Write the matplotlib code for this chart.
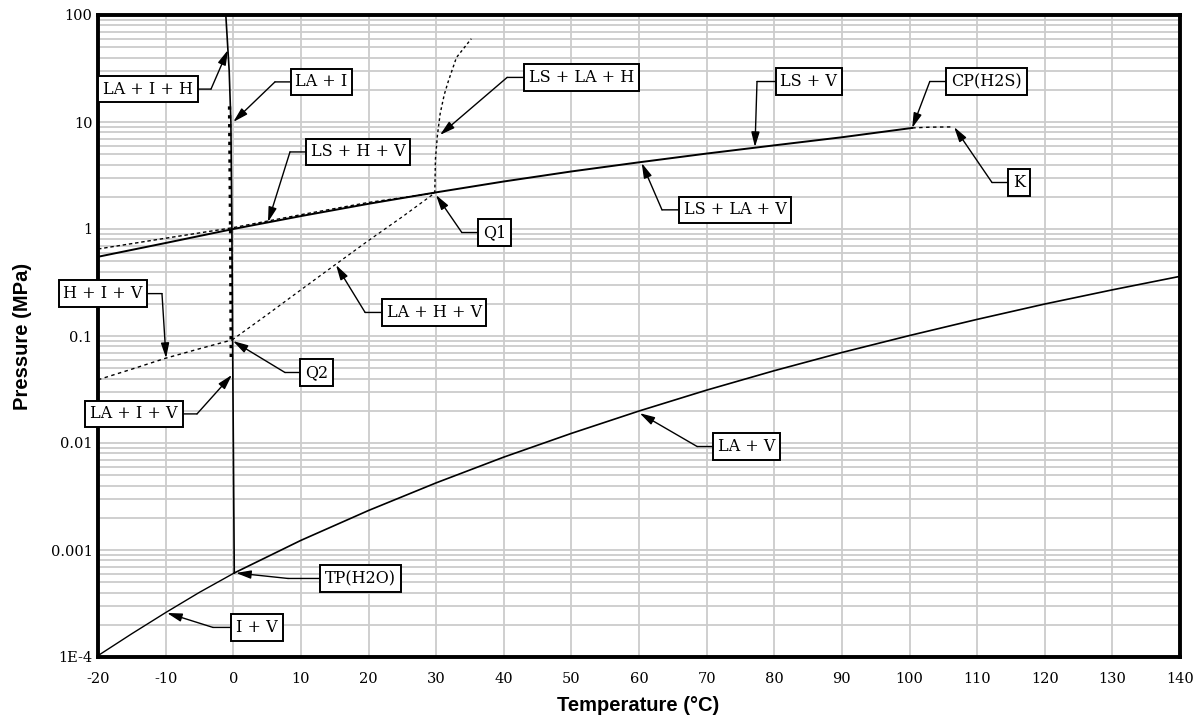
"""
Phase diagram of the H2S - H2O system (pressure vs temperature)
"""
import matplotlib
matplotlib.use('Agg')
import matplotlib.pyplot as plt

# ---- data ----
# LA + V  (water vapour pressure)
t_lav = [0.15, 10, 20, 30, 40, 50, 60, 70, 80, 90, 100, 110, 120, 130, 140]
p_lav = [0.00061, 0.00123, 0.00234, 0.00424, 0.00738, 0.0123, 0.0199,
         0.0312, 0.0474, 0.0701, 0.101, 0.143, 0.199, 0.270, 0.361]

# I + V  (ice sublimation)
t_iv = [-20, -15, -10, -5, 0.15]
p_iv = [0.000103, 0.000165, 0.00026, 0.000402, 0.00061]

# LS + V  (H2S vapour pressure, ends at CP(H2S))
t_lsv = [-20, -10, 0, 10, 20, 30, 40, 50, 60, 70, 80, 90, 100.4]
p_lsv = [0.55, 0.74, 1.0, 1.32, 1.72, 2.2, 2.78, 3.45, 4.2, 5.07, 6.05, 7.2, 8.8]

# LS + H + V
t_lshv = [-20, -10, 0, 10, 20, 29.8]
p_lshv = [0.65, 0.82, 1.03, 1.36, 1.77, 2.17]

# H + I + V
t_hiv = [-20, -15, -10, -5, -0.15]
p_hiv = [0.039, 0.049, 0.062, 0.076, 0.092]

# LA + H + V  (Q2 -> Q1)
t_lahv = [-0.15, 5, 10, 15, 20, 25, 29.8]
p_lahv = [0.092, 0.158, 0.27, 0.46, 0.78, 1.3, 2.17]

# LS + LA + H  (from Q1 upwards)
t_lslah = [29.8, 29.9, 30.2, 30.6, 31.2, 31.8, 33.0, 35.2]
p_lslah = [2.17, 4.5, 7.6, 12, 18, 24, 40, 60]

# K  (continuation past the critical point)
t_k = [100.4, 103, 106.5]
p_k = [8.8, 8.95, 9.0]

# ice melting line (LA + I)
t_melt = [-1.1, -0.6, -0.35, -0.2, -0.1, 0.15]
p_melt = [100, 30, 10, 1, 0.1, 0.00061]

# LA + I + H
t_laih = [-0.55, -0.4, -0.3]
p_laih = [14, 1, 0.063]

# labels: text, arrow tip (T, P), elbow (T, P), box centre (T, P)
labels = ['LA + I + H', 'LA + I', 'LS + H + V', 'LS + LA + H', 'Q1',
          'LS + LA + V', 'LS + V', 'CP(H2S)', 'K', 'H + I + V',
          'LA + I + V', 'Q2', 'LA + H + V', 'LA + V', 'TP(H2O)', 'I + V']
tips = [(-0.78, 47.1), (0.0, 10.0), (5.14, 1.16), (30.57, 7.57), (29.98, 2.08),
        (60.4, 4.14), (77.15, 5.83), (100.4, 8.79), (106.6, 8.97), (-9.94, 0.0622),
        (-0.19, 0.0433), (-0.04, 0.0898), (15.2, 0.461), (60.1, 0.0190),
        (0.4, 0.00061), (-9.8, 0.000258)]
elbows = [(-3.29, 20.3), (6.17, 23.7), (8.39, 5.25), (40.5, 26.1), (33.8, 0.927),
          (63.4, 1.51), (77.45, 23.9), (103.0, 23.9), (112.2, 2.72), (-10.54, 0.249),
          (-5.36, 0.0187), (7.65, 0.0456), (19.5, 0.166), (68.6, 0.00927),
          (8.1, 0.000542), (-3.0, 0.000189)]
boxes = [(-12.6, 20.3), (13.05, 23.7), (18.5, 5.25), (51.5, 26.1), (38.6, 0.927),
         (74.2, 1.51), (85.1, 23.9), (111.4, 23.9), (116.2, 2.72), (-19.26, 0.249),
         (-14.68, 0.0187), (12.3, 0.0456), (29.7, 0.166), (75.9, 0.00927),
         (18.8, 0.000542), (3.51, 0.000189)]

x_ticks = list(range(-20, 141, 10))
y_ticks = [1e-4, 1e-3, 1e-2, 1e-1, 1, 10, 100]
y_tick_labels = ['1E-4', '0.001', '0.01', '0.1', '1', '10', '100']

# ---- figure ----
fig = plt.figure(figsize=(12.02, 7.22), dpi=100)
ax = fig.add_axes([98 / 1202, 65 / 722, 1082 / 1202, 642 / 722])

ax.set_yscale('log')
ax.set_xlim(-20, 140)
ax.set_ylim(1e-4, 100)

ax.set_xticks(x_ticks)
ax.set_xticklabels([str(t) for t in x_ticks])
ax.set_yticks(y_ticks)
ax.set_yticklabels(y_tick_labels)
ax.tick_params(which='both', length=0)
ax.tick_params(axis='x', pad=11)
ax.tick_params(axis='y', pad=4)
for lab in ax.get_xticklabels() + ax.get_yticklabels():
    lab.set_family('DejaVu Serif')
    lab.set_fontsize(10.5)

# grid
ax.grid(True, which='major', axis='x', color='#cccccc', lw=1.3)
ax.grid(True, which='both', axis='y', color='#cccccc', lw=1.3)
ax.set_axisbelow(True)

for sp in ax.spines.values():
    sp.set_linewidth(2.8)

# curves
ax.plot(t_lav, p_lav, 'k-', lw=1.2)
ax.plot(t_iv, p_iv, 'k-', lw=1.0)
ax.plot(t_lsv, p_lsv, 'k-', lw=1.4)
ax.plot(t_lshv, p_lshv, 'k--', lw=1.0, dashes=(2.5, 2))
ax.plot(t_hiv, p_hiv, 'k--', lw=1.0, dashes=(2.5, 2.5))
ax.plot(t_lahv, p_lahv, 'k--', lw=0.9, dashes=(2.5, 2.5))
ax.plot(t_lslah, p_lslah, 'k--', lw=1.0, dashes=(2, 2))
ax.plot(t_k, p_k, 'k--', lw=1.0, dashes=(2.5, 2.5))
ax.plot(t_melt, p_melt, 'k-', lw=1.2)
ax.plot(t_laih, p_laih, 'k:', lw=2.4)

# labelled arrows with an elbow
for text, tip, elbow, box in zip(labels, tips, elbows, boxes):
    ax.annotate('', xy=tip, xytext=elbow,
                arrowprops=dict(arrowstyle='-|>,head_length=0.9,head_width=0.25',
                                color='k', lw=1.0, shrinkA=0, shrinkB=0))
    ax.annotate(text, xy=elbow, xytext=box, ha='center', va='center',
                family='DejaVu Serif', fontsize=11.5,
                bbox=dict(boxstyle='square,pad=0.3', fc='white', ec='k', lw=1.4),
                arrowprops=dict(arrowstyle='-', color='k', lw=1.0,
                                shrinkA=0, shrinkB=0))

ax.set_xlabel('Temperature (°C)', family='Liberation Sans', fontweight='bold',
              fontsize=14.5)
ax.set_ylabel('Pressure (MPa)', family='Liberation Sans', fontweight='bold',
              fontsize=14.5)
ax.xaxis.set_label_coords(0.499, -0.075)
ax.xaxis.label.set_va('center')
ax.yaxis.set_label_coords(-0.070, 0.5)
ax.yaxis.label.set_va('center')

fig.savefig('out.png', dpi=100)
